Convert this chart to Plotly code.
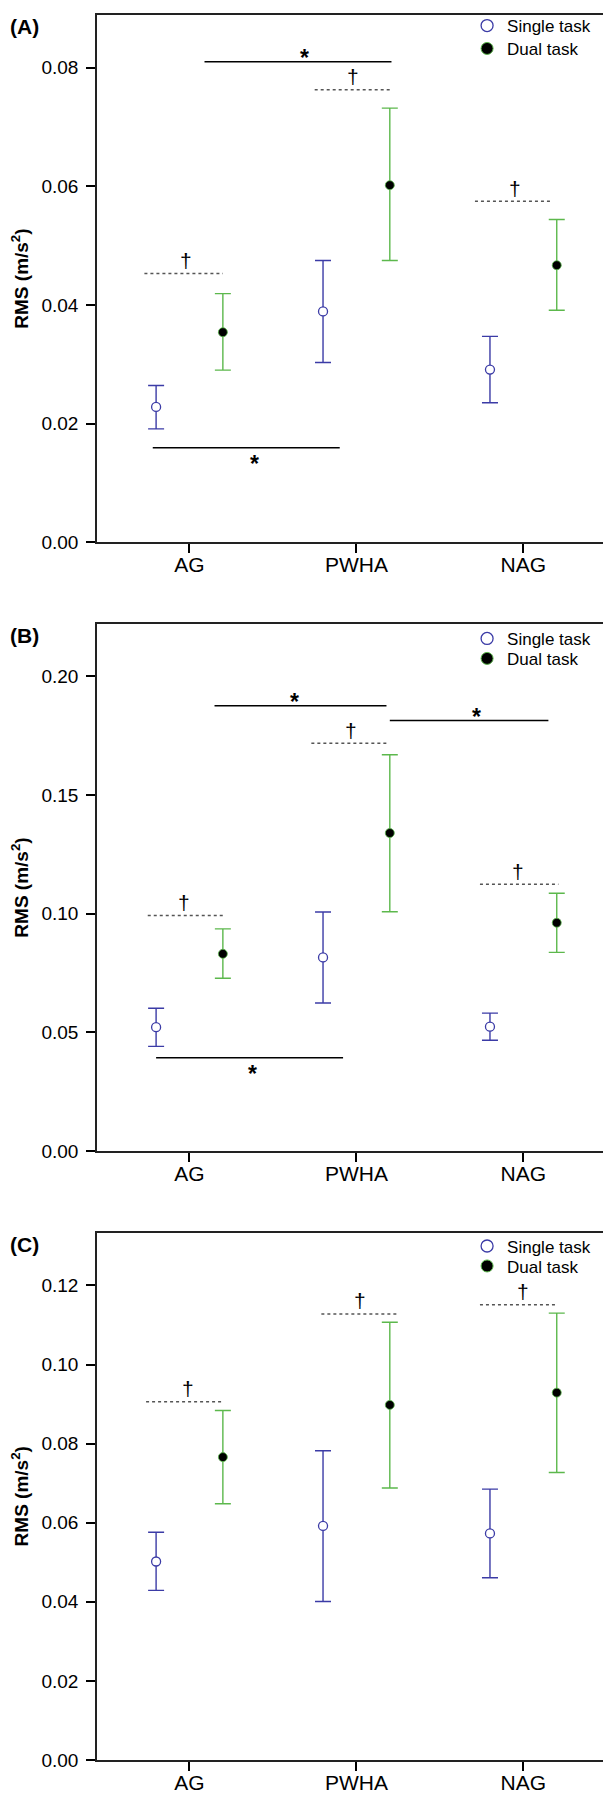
import plotly.graph_objects as go

# groups on the x axis
categories = ["AG", "PWHA", "NAG"]

# panel A  (mean, upper and lower end of the error bar)
a_single = [0.0228, 0.0389, 0.0291]
a_single_hi = [0.0264, 0.0475, 0.0347]
a_single_lo = [0.0191, 0.0303, 0.0235]
a_dual = [0.0354, 0.0602, 0.0467]
a_dual_hi = [0.0419, 0.0732, 0.0544]
a_dual_lo = [0.0290, 0.0475, 0.0391]

# panel B
b_single = [0.0522, 0.0816, 0.0524]
b_single_hi = [0.0602, 0.1007, 0.0581]
b_single_lo = [0.0441, 0.0624, 0.0467]
b_dual = [0.0831, 0.1340, 0.0962]
b_dual_hi = [0.0936, 0.1670, 0.1086]
b_dual_lo = [0.0728, 0.1008, 0.0837]

# panel C
c_single = [0.0502, 0.0592, 0.0573]
c_single_hi = [0.0576, 0.0782, 0.0685]
c_single_lo = [0.0429, 0.0401, 0.0461]
c_dual = [0.0766, 0.0898, 0.0929]
c_dual_hi = [0.0884, 0.1107, 0.1130]
c_dual_lo = [0.0648, 0.0688, 0.0727]

# significance marks: (x0, x1, y, line style, symbol, symbol x, above/below)
a_marks = [
    (0.09, 1.21, 0.0810, "solid", "*", 0.69, "up"),
    (-0.27, 0.20, 0.0453, "dot", "†", -0.02, "up"),
    (0.75, 1.21, 0.0763, "dot", "†", 0.98, "up"),
    (1.71, 2.17, 0.0575, "dot", "†", 1.95, "up"),
    (-0.22, 0.90, 0.0159, "solid", "*", 0.39, "down"),
]
b_marks = [
    (0.15, 1.18, 0.1876, "solid", "*", 0.63, "up"),
    (1.20, 2.15, 0.1814, "solid", "*", 1.72, "up"),
    (0.73, 1.19, 0.1718, "dot", "†", 0.97, "up"),
    (-0.25, 0.21, 0.0993, "dot", "†", -0.03, "up"),
    (1.74, 2.21, 0.1124, "dot", "†", 1.97, "up"),
    (-0.20, 0.92, 0.0393, "solid", "*", 0.38, "down"),
]
c_marks = [
    (-0.26, 0.20, 0.0906, "dot", "†", -0.01, "up"),
    (0.79, 1.25, 0.1128, "dot", "†", 1.02, "up"),
    (1.74, 2.20, 0.1151, "dot", "†", 2.00, "up"),
]

FONT = "Liberation Sans, Arial, sans-serif"
BLUE = "#3b3ba6"
GREEN = "#5cb84c"

panels = [
    ("(A)", a_single, a_single_hi, a_single_lo, a_dual, a_dual_hi, a_dual_lo, a_marks, 0.0889, 0.02),
    ("(B)", b_single, b_single_hi, b_single_lo, b_dual, b_dual_hi, b_dual_lo, b_marks, 0.2221, 0.05),
    ("(C)", c_single, c_single_hi, c_single_lo, c_dual, c_dual_hi, c_dual_lo, c_marks, 0.1334, 0.02),
]
domains = [[0.69794, 1.0], [0.34897, 0.65103], [0.0, 0.30229]]
# legend rows, in px below the top of each panel (single, dual)
legend_rows = [(11, 34), (15, 35), (14, 34)]

idx = list(range(len(categories)))
x_single = [i - 0.2 for i in idx]
x_dual = [i + 0.2 for i in idx]

fig = go.Figure()
shapes = []
annotations = []
layout_axes = {}
PLOT_H = 1750

for p, (label, s, s_hi, s_lo, d, d_hi, d_lo, marks, ymax, dt) in enumerate(panels):
    n = "" if p == 0 else str(p + 1)
    xa, ya = "x" + n, "y" + n
    lg_s = "legend" + ("" if p == 0 else str(2 * p + 1))
    lg_d = "legend" + str(2 * p + 2)

    fig.add_trace(go.Scatter(
        x=x_single, y=s, mode="markers", xaxis=xa, yaxis=ya, showlegend=False,
        marker=dict(symbol="circle", size=9, color="white", line=dict(color=BLUE, width=1.3)),
        error_y=dict(type="data", symmetric=False,
                     array=[h - m for h, m in zip(s_hi, s)],
                     arrayminus=[m - l for m, l in zip(s, s_lo)],
                     color=BLUE, thickness=1.4, width=8),
    ))
    fig.add_trace(go.Scatter(
        x=x_dual, y=d, mode="markers", xaxis=xa, yaxis=ya, showlegend=False,
        marker=dict(symbol="circle", size=9, color="black", line=dict(color=GREEN, width=0.8)),
        error_y=dict(type="data", symmetric=False,
                     array=[h - m for h, m in zip(d_hi, d)],
                     arrayminus=[m - l for m, l in zip(d, d_lo)],
                     color=GREEN, thickness=1.4, width=8),
    ))
    # legend entries, one small legend per row so the rows sit close together
    fig.add_trace(go.Scatter(
        x=[None], y=[None], mode="markers", name="Single task", xaxis=xa, yaxis=ya, legend=lg_s,
        marker=dict(symbol="circle", size=12, color="white", line=dict(color=BLUE, width=1.3)),
    ))
    fig.add_trace(go.Scatter(
        x=[None], y=[None], mode="markers", name="Dual task", xaxis=xa, yaxis=ya, legend=lg_d,
        marker=dict(symbol="circle", size=12, color="black", line=dict(color=GREEN, width=1)),
    ))
    top = domains[p][1]
    for lg, row in zip((lg_s, lg_d), legend_rows[p]):
        layout_axes[lg] = dict(
            x=0.72, xanchor="left", y=top - row / PLOT_H, yanchor="middle",
            bgcolor="rgba(0,0,0,0)", borderwidth=0,
            font=dict(family=FONT, size=17, color="black"),
        )

    for x0, x1, yv, style, sym, sx, pos in marks:
        shapes.append(dict(
            type="line", xref=xa, yref=ya, x0=x0, x1=x1, y0=yv, y1=yv,
            line=dict(color="black" if style == "solid" else "#555555",
                      width=1.5, dash=style),
        ))
        if sym == "*":
            annotations.append(dict(
                xref=xa, yref=ya, x=sx, y=yv, text="<b>*</b>", showarrow=False,
                font=dict(family=FONT, size=23, color="black"),
                yshift=4 if pos == "up" else -16,
            ))
        else:
            annotations.append(dict(
                xref=xa, yref=ya, x=sx, y=yv, text="†", showarrow=False,
                font=dict(family=FONT, size=21, color="black"), yshift=13,
            ))

    # panel letter sits at the left edge of the figure
    annotations.append(dict(
        xref="paper", yref=ya + " domain", x=-89 / 514, y=1 - 12 / 528.6,
        xanchor="left", yanchor="middle", text="<b>" + label + "</b>", showarrow=False,
        font=dict(family=FONT, size=21, color="black"),
    ))

    layout_axes["xaxis" + n] = dict(
        domain=[0, 1], anchor=ya, range=[-0.554, 2.525],
        tickvals=idx, ticktext=categories, ticks="outside", ticklen=9, tickwidth=1.5,
        tickcolor="black", showline=True, linecolor="#222222", linewidth=1.5, mirror=True,
        showgrid=False, zeroline=False, ticklabelstandoff=-6,
        tickfont=dict(family=FONT, size=21, color="black"),
    )
    layout_axes["yaxis" + n] = dict(
        domain=domains[p], anchor=xa, range=[0, ymax], dtick=dt, tick0=0,
        tickformat=".2f", ticks="outside", ticklen=9, tickwidth=1.5, tickcolor="black",
        showline=True, linecolor="#222222", linewidth=1.5, showgrid=False, zeroline=False,
        ticklabelstandoff=4, tickfont=dict(family=FONT, size=19, color="black"),
        title=dict(text="<b>RMS (m/s<sup>2</sup>)</b>", standoff=10,
                   font=dict(family=FONT, size=19, color="black")),
    )

# the page body has an 8px margin, so the figure is 8px smaller on each side
fig.update_layout(
    width=603, height=1788,
    margin=dict(l=89, r=0, t=2, b=36),
    plot_bgcolor="white", paper_bgcolor="white",
    shapes=shapes, annotations=annotations,
    **layout_axes,
)

fig.write_html("out.html")
